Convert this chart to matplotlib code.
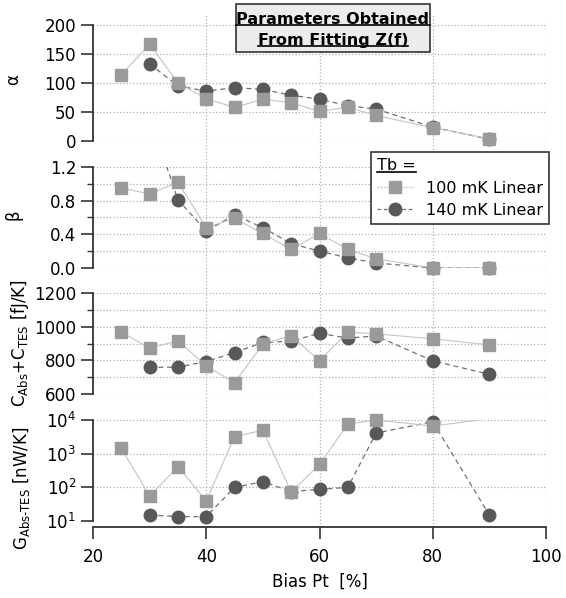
import numpy as np
import matplotlib
matplotlib.use("Agg")
import matplotlib.pyplot as plt
from matplotlib.ticker import MultipleLocator, NullLocator, FormatStrFormatter, LogLocator
from matplotlib.lines import Line2D
from matplotlib.patches import Rectangle

plt.rcParams['font.family'] = ['DejaVu Sans']
plt.rcParams['mathtext.fontset'] = 'dejavusans'

# ---------------- data ----------------
bias_100 = [25, 30, 35, 40, 45, 50, 55, 60, 65, 70, 80, 90]
bias_140 = [30, 35, 40, 45, 50, 55, 60, 65, 70, 80, 90]

alpha_100 = [114, 167, 100, 73, 58, 72, 66, 51, 58, 44, 23, 4]
alpha_140 = [133, 95, 86, 92, 89, 79, 72, 61, 55, 24, 3]

beta_100 = [0.95, 0.88, 1.02, 0.48, 0.59, 0.41, 0.22, 0.41, 0.22, 0.11, 0.0, 0.0]
beta_140 = [1.8, 0.81, 0.44, 0.63, 0.48, 0.29, 0.20, 0.12, 0.06, 0.0, 0.0]

cap_100 = [968, 872, 916, 767, 667, 896, 947, 797, 968, 957, 928, 892]
cap_140 = [759, 759, 793, 846, 906, 914, 961, 932, 945, 797, 717]

g_100 = [1445, 55, 410, 40, 3200, 5000, 72, 480, 7600, 10000, 6600, 11000]
g_140 = [15, 13.5, 13.5, 100, 147, 75, 87, 100, 4100, 8900, 15]

series_labels = ["100 mK Linear", "140 mK Linear"]
legend_title = "Tb ="
title_lines = ["Parameters Obtained", "From Fitting Z(f)"]
x_ticks = [20, 40, 60, 80, 100]
x_label = "Bias Pt  [%]"

# ---------------- styling ----------------
W, H = 566, 598
fig = plt.figure(figsize=(W / 100, H / 100), dpi=100)

def fx(px):
    return px / W

def fy(py):
    return 1 - py / H

left_px, right_px = 93, 546
panels_px = [(25, 141), (167, 268), (293, 394), (420, 521)]

sq_color = '#9a9a9a'
sq_line = '#c4c4c4'
ci_color = '#585858'
ci_line = '#707070'
spine_c = '#333333'
grid_c = '#b0b0b0'
fs = 12

# background axes for vertical grid lines
ax_bg = fig.add_axes([fx(left_px), fy(527), fx(right_px - left_px), (527 - 15) / H], zorder=0)
ax_bg.set_xlim(20, 100)
ax_bg.set_ylim(0, 1)
ax_bg.axis('off')
for xv in x_ticks[1:]:
    ax_bg.axvline(xv, color=grid_c, ls=':', lw=0.9)

axes = []
for (top, bot) in panels_px:
    ax = fig.add_axes([fx(left_px), fy(bot), fx(right_px - left_px), (bot - top) / H], zorder=2)
    ax.patch.set_visible(False)
    ax.set_xlim(20, 100)
    for s in ['top', 'right']:
        ax.spines[s].set_visible(False)
    ax.spines['left'].set_color(spine_c)
    ax.spines['left'].set_linewidth(1.3)
    ax.tick_params(axis='y', which='major', direction='out', length=8.6, width=1.2,
                   color=spine_c, labelsize=fs, pad=3.5)
    ax.tick_params(axis='y', which='minor', direction='out', length=4.3, width=1.0, color=spine_c)
    axes.append(ax)

for ax in axes[:3]:
    ax.spines['bottom'].set_visible(False)
    ax.tick_params(axis='x', which='both', bottom=False, labelbottom=False)

ax1, ax2, ax3, ax4 = axes

def draw(ax, x140, y140, x100, y100, ylim):
    ymin, ymax = ylim
    ax.plot(x140, y140, color=ci_line, ls=(0, (4, 3)), lw=0.9, zorder=3)
    ax.plot(x100, y100, color=sq_line, ls='-', lw=0.8, zorder=4)
    y140m = [v if ymin <= v <= ymax else np.nan for v in y140]
    y100m = [v if ymin <= v <= ymax else np.nan for v in y100]
    ax.plot(x140, y140m, ls='none', marker='o', ms=9, color=ci_color, clip_on=False, zorder=5)
    ax.plot(x100, y100m, ls='none', marker='s', ms=8, color=sq_color, clip_on=False, zorder=6)
    ax.set_ylim(ymin, ymax)

draw(ax1, bias_140, alpha_140, bias_100, alpha_100, (0, 200))
ax1.yaxis.set_major_locator(MultipleLocator(50))

draw(ax2, bias_140, beta_140, bias_100, beta_100, (0, 1.2))
ax2.yaxis.set_major_locator(MultipleLocator(0.4))
ax2.yaxis.set_minor_locator(MultipleLocator(0.2))
ax2.yaxis.set_major_formatter(FormatStrFormatter('%.1f'))

draw(ax3, bias_140, cap_140, bias_100, cap_100, (600, 1200))
ax3.yaxis.set_major_locator(MultipleLocator(200))
ax3.yaxis.set_minor_locator(MultipleLocator(100))

ax4.set_yscale('log')
draw(ax4, bias_140, g_140, bias_100, g_100, (10, 1e4))
ax4.yaxis.set_major_locator(LogLocator(base=10, numticks=10))
ax4.yaxis.set_minor_locator(NullLocator())

for ax in axes:
    ax.yaxis.grid(True, which='both', color=grid_c, ls=':', lw=0.9)
    ax.set_axisbelow(True)

# x axis on bottom panel
ax4.spines['bottom'].set_position(('outward', 4.3))
ax4.spines['bottom'].set_color(spine_c)
ax4.spines['bottom'].set_linewidth(1.3)
ax4.set_xticks(x_ticks)
ax4.tick_params(axis='x', which='major', direction='out', length=8.6, width=1.2,
                color=spine_c, labelsize=fs, pad=6.5)
ax4.xaxis.set_minor_locator(NullLocator())
ax4.set_xlabel(x_label, fontsize=fs)
ax4.xaxis.set_label_coords(0.5, (521 - 573) / 101)

# y labels
ax1.set_ylabel('α', fontsize=fs)
ax1.yaxis.set_label_coords((22 - 93) / 453, (141 - 80) / 116)
ax2.set_ylabel('β', fontsize=fs)
ax2.yaxis.set_label_coords((22 - 93) / 453, (268 - 215) / 101)
ax3.set_ylabel(r'C$_{\mathregular{Abs}}$+C$_{\mathregular{TES}}$ [fJ/K]', fontsize=fs)
ax3.yaxis.set_label_coords((31 - 93) / 453, 0.5)
ax4.set_ylabel(r'G$_{\mathregular{Abs\text{-}TES}}$ [nW/K]', fontsize=fs)
ax4.yaxis.set_label_coords((32 - 93) / 453, (521 - 488) / 101)

# title box
fig.patches.append(Rectangle((fx(236), fy(52)), fx(430 - 236), (52 - 4) / H,
                             transform=fig.transFigure, facecolor='#ececec',
                             edgecolor=spine_c, lw=1.2, zorder=10))
t1 = fig.text(fx(333), fy(19), title_lines[0], ha='center', va='center',
              fontsize=11.5, fontweight='bold', zorder=11)
t2 = fig.text(fx(333), fy(40), title_lines[1], ha='center', va='center',
              fontsize=11.5, fontweight='bold', zorder=11)

# legend
h100 = Line2D([], [], color=sq_line, ls=(0, (1.5, 1)), lw=0.9, marker='s', ms=8,
              markerfacecolor=sq_color, markeredgecolor=sq_color)
h140 = Line2D([], [], color=ci_line, ls=(0, (3, 2)), lw=0.9, marker='o', ms=9,
              markerfacecolor=ci_color, markeredgecolor=ci_color)
leg = fig.legend([h100, h140], series_labels, title=legend_title, loc='upper left',
                 bbox_to_anchor=(fx(371), fy(152)), fontsize=11.5, title_fontsize=11.5,
                 alignment='left', frameon=True, fancybox=False, edgecolor=spine_c,
                 framealpha=1, borderpad=0.4, handlelength=2.25, handletextpad=0.8,
                 labelspacing=0.45, borderaxespad=0)
leg.get_frame().set_linewidth(1.2)
leg.set_zorder(12)

# underlines
fig.canvas.draw()
r = fig.canvas.get_renderer()
inv = fig.transFigure.inverted()
for t in [t1, t2, leg.get_title()]:
    bb = t.get_window_extent(r)
    (x0, y0), (x1, y1) = inv.transform([(bb.x0, bb.y0), (bb.x1, bb.y1)])
    yline = y0 + 0.12 * (y1 - y0)
    fig.lines.append(Line2D([x0, x1], [yline, yline], transform=fig.transFigure,
                            color='black', lw=1.2, zorder=13))

fig.savefig('out.png', dpi=100)
